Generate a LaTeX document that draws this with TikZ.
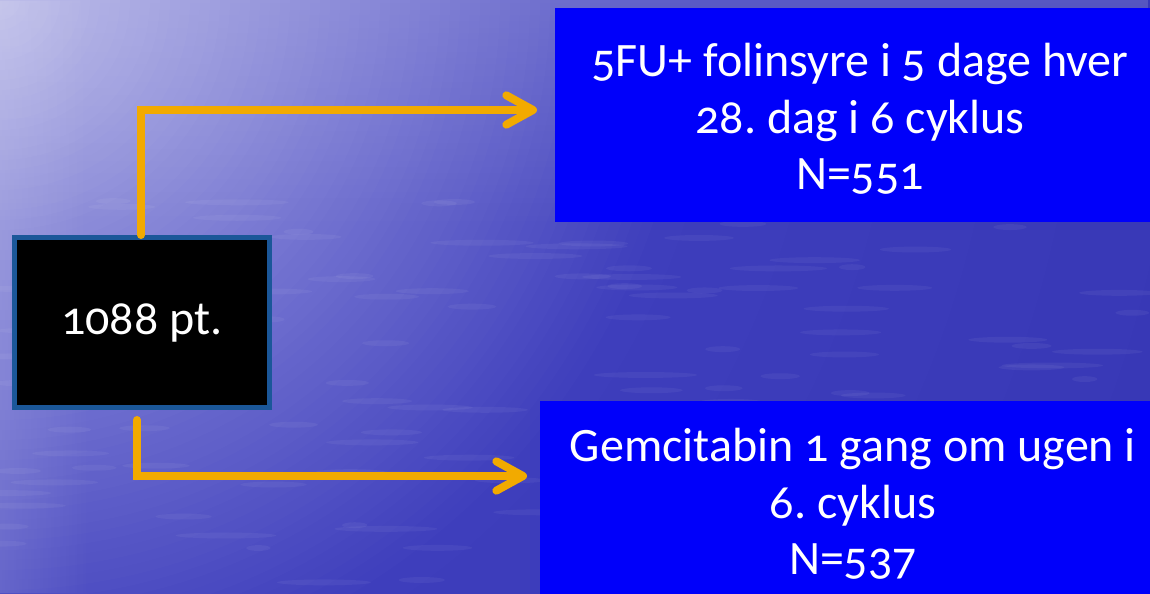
\documentclass[tikz,border=0pt]{standalone}
\usepackage{fontspec}
\setmainfont{Carlito}[Numbers=OldStyle]
\usetikzlibrary{arrows.meta,calc,fadings}
\definecolor{bgA}{HTML}{B4B4E6}
\definecolor{bgB}{HTML}{7272D0}
\definecolor{bgC}{HTML}{3E3EBC}
\definecolor{bgD}{HTML}{3636B4}
\definecolor{arrowor}{HTML}{F2AA00}
\definecolor{boxblue}{HTML}{0000FA}
\definecolor{srcborder}{HTML}{1B5799}
\tikzset{
  srcbox/.style={draw=srcborder, line width=3.75pt, fill=black, text=white,
    minimum width=191.25pt, minimum height=127.5pt, inner sep=0pt,
    font=\fontsize{36}{42}\selectfont},
  bluebox/.style={fill=boxblue, draw=none, inner sep=0pt},
  bluetext/.style={text=white, align=center, inner sep=0pt,
    font=\fontsize{36}{42.5}\selectfont},
  conn/.style={draw=arrowor, line width=6pt, line cap=round, line join=miter,
    -{Straight Barb[length=20pt,width=22pt,round]}},
  streak/.style={fill=white, opacity=0.05}
}
\begin{document}
\frenchspacing
\begin{tikzpicture}[x=0.75pt,y=-0.75pt]
\useasboundingbox (0,0) rectangle (1150,593);
\begin{scope}
  \clip (0,0) rectangle (1150,593);
  \fill[bgD] (0,0) rectangle (1150,593);
  \foreach \r in {1400,1380,...,720} {
    \pgfmathsetmacro\p{(\r-700)/700*100}
    \fill[bgD!\p!bgC] (0,0) circle[radius={\r*0.75pt}];
  }
  \foreach \r in {700,690,...,400} {
    \pgfmathsetmacro\p{(\r-390)/310*100}
    \fill[bgC!\p!bgB] (0,0) circle[radius={\r*0.75pt}];
  }
  \foreach \r in {390,380,...,10} {
    \pgfmathsetmacro\p{\r/390*100}
    \fill[bgB!\p!bgA] (0,0) circle[radius={\r*0.75pt}];
  }
  \fill[white, opacity=0.15, path fading=south] (0,0) rectangle (1150,230);
  \fill[white, opacity=0.12, path fading=east] (0,0) rectangle (90,593);
  \pgfmathsetseed{11}
  \foreach \i in {1,...,140} {
    \pgfmathsetmacro\xx{rnd*1150}
    \pgfmathsetmacro\yy{200+rnd*393}
    \pgfmathsetmacro\ww{(12+rnd*40)*0.75}
    \fill[streak] (\xx,\yy) ellipse[x radius=\ww pt, y radius=2.2pt];
  }
\end{scope}
% boxes
\node[srcbox] (src) at (142,322.5) {1088 pt.};
\node[bluebox, minimum width=450pt, minimum height=160.5pt] (top) at (855,115) {};
\node[bluebox, minimum width=465pt, minimum height=150pt] (bot) at (850,501) {};
\node[bluetext] (toptext) at (860,119) {5FU+ folinsyre i 5 dage hver\\28. dag i 6 cyklus\\N=551};
\node[bluetext] (bottext) at (853,504) {Gemcitabin 1 gang om ugen i\\6. cyklus\\N=537};
% connectors
\coordinate (t1) at (537,110);
\coordinate (t2) at (527,476);
\draw[conn] ($(src.north)+(-1,0)$) |- (t1);
\draw[conn] ($(src.south)+(-5,10)$) |- (t2);
\end{tikzpicture}
\end{document}
